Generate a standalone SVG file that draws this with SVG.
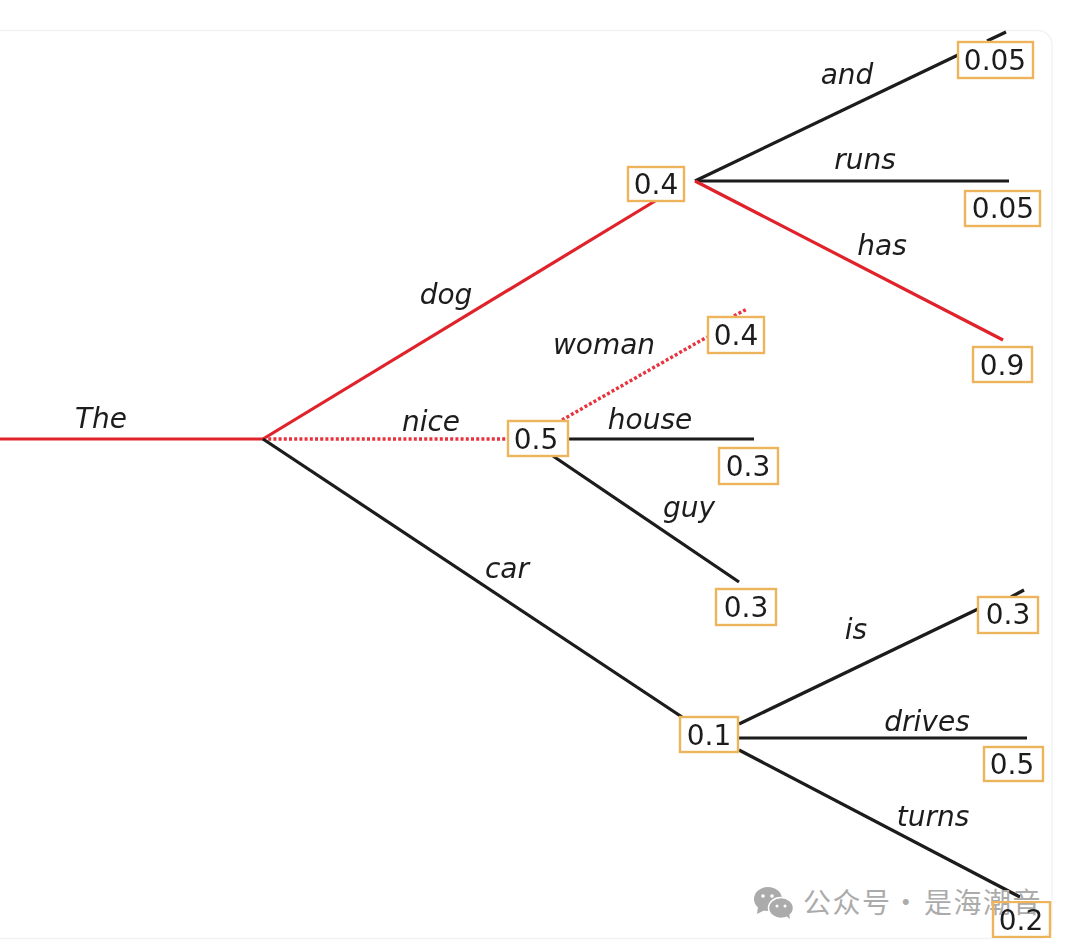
<svg xmlns="http://www.w3.org/2000/svg" width="1080" height="947" viewBox="0 0 1080 947">
<style>
.c{fill:none;stroke-width:3.2;stroke-linecap:butt}
.k{stroke:#1a1a1a}
.r{stroke:#e0202a}
.d{stroke:#e8323c;stroke-width:3.4;stroke-dasharray:3 2.2}
.w{font:italic 28px "DejaVu Sans",sans-serif;fill:#1c1c1c;text-anchor:middle}
.n{font:28px "DejaVu Sans",sans-serif;fill:#1c1c1c;text-anchor:middle}
.b{fill:#fff;stroke:#eeb45c;stroke-width:2.400}
.m{font:28px "Noto Sans CJK SC",sans-serif;fill:#ababab;letter-spacing:1.500px}
</style>
<defs><filter id="s" x="-2%" y="-2%" width="104%" height="104%"><feGaussianBlur stdDeviation="0.7"/></filter></defs>
<rect x="-20" y="30.500" width="1072" height="908" rx="14" fill="#fff" stroke="#f3f3f3" stroke-width="1.500"/>
<g filter="url(#s)">
<g id="connectors">
<path class="c r" d="M0 439H263"/>
<path class="c r" d="M263 439L660 198"/>
<path class="c d" d="M263 439H508"/>
<path class="c k" d="M263 439L682 717"/>
<path class="c k" d="M695 181L958 55"/>
<path class="c k" d="M987 41L1006 32"/>
<path class="c k" d="M695 181H1009"/>
<path class="c r" d="M695 181L1003 340"/>
<path class="c d" d="M562 420L707 337"/>
<path class="c d" d="M734 316L747 309"/>
<path class="c k" d="M569 439H754"/>
<path class="c k" d="M553 456L739 582"/>
<path class="c k" d="M739 724L978 609"/>
<path class="c k" d="M1011 597L1024 590"/>
<path class="c k" d="M739 738H1027"/>
<path class="c k" d="M739 750L1020 897"/>
</g>
<g id="label-the"><text class="w" x="101" y="428">The</text></g>
<g id="label-dog"><text class="w" x="446" y="304">dog</text></g>
<g id="label-nice"><text class="w" x="431" y="431">nice</text></g>
<g id="label-car"><text class="w" x="507" y="578">car</text></g>
<g id="label-and"><text class="w" x="847" y="84">and</text></g>
<g id="label-runs"><text class="w" x="865" y="169">runs</text></g>
<g id="label-has"><text class="w" x="882" y="255">has</text></g>
<g id="label-woman"><text class="w" x="604" y="354">woman</text></g>
<g id="label-house"><text class="w" x="650" y="429">house</text></g>
<g id="label-guy"><text class="w" x="689" y="517">guy</text></g>
<g id="label-is"><text class="w" x="856" y="639">is</text></g>
<g id="label-drives"><text class="w" x="927" y="731">drives</text></g>
<g id="label-turns"><text class="w" x="933" y="826">turns</text></g>
<g id="node-dog"><rect class="b" x="628" y="167" width="56" height="34"/><text class="n" x="656" y="194">0.4</text></g>
<g id="node-nice"><rect class="b" x="508" y="421" width="60" height="35"/><text class="n" x="536" y="449">0.5</text></g>
<g id="node-car"><rect class="b" x="680" y="717" width="58" height="35"/><text class="n" x="709" y="745">0.1</text></g>
<g id="node-and"><rect class="b" x="958" y="42" width="75" height="36"/><text class="n" x="995" y="70">0.05</text></g>
<g id="node-runs"><rect class="b" x="965" y="191" width="75" height="35"/><text class="n" x="1003" y="218">0.05</text></g>
<g id="node-has"><rect class="b" x="973" y="347" width="59" height="35"/><text class="n" x="1002" y="375">0.9</text></g>
<g id="node-woman"><rect class="b" x="708" y="317" width="56" height="36"/><text class="n" x="736" y="345">0.4</text></g>
<g id="node-house"><rect class="b" x="719" y="448" width="59" height="36"/><text class="n" x="748" y="476">0.3</text></g>
<g id="node-guy"><rect class="b" x="716" y="589" width="60" height="36"/><text class="n" x="746" y="617">0.3</text></g>
<g id="node-is"><rect class="b" x="978" y="597" width="60" height="36"/><text class="n" x="1008" y="624">0.3</text></g>
<g id="node-drives"><rect class="b" x="984" y="747" width="59" height="34"/><text class="n" x="1012" y="774">0.5</text></g>
</g>
<g id="watermark">
<ellipse cx="768" cy="899" rx="14" ry="12" fill="#ababab"/>
<path d="M758 907L757 914L765 910Z" fill="#ababab"/>
<ellipse cx="781" cy="908" rx="12.500" ry="10.500" fill="#ababab" stroke="#fff" stroke-width="1.500"/>
<path d="M786 916L790 919L789 913Z" fill="#ababab"/>
<circle cx="763" cy="896" r="1.800" fill="#fff"/><circle cx="772" cy="896" r="1.800" fill="#fff"/>
<circle cx="777" cy="906" r="1.500" fill="#fff"/><circle cx="785" cy="906" r="1.500" fill="#fff"/>
<text class="m" y="913"><tspan x="803">公众号</tspan><tspan x="884"> · </tspan><tspan x="924">是海潮音</tspan></text>
</g>
<g id="node-turns" filter="url(#s)"><rect x="993" y="902" width="57" height="35" fill="none" stroke="#eeb45c" stroke-width="2.400"/><text class="n" x="1021" y="930">0.2</text></g>
</svg>
